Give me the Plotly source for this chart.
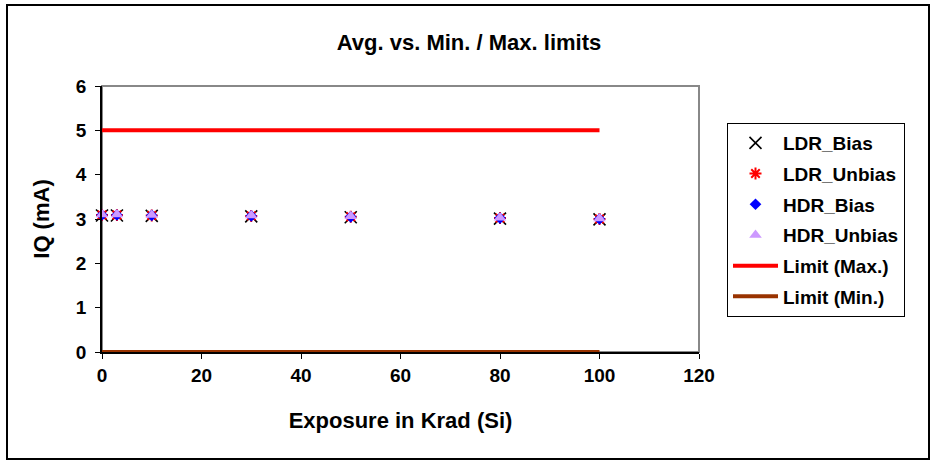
import plotly.graph_objects as go

exposure = [0, 3, 10, 30, 50, 80, 100]
ldr_bias = [3.08, 3.08, 3.07, 3.06, 3.04, 3.01, 2.99]
ldr_unbias = [3.09, 3.09, 3.08, 3.07, 3.05, 3.02, 3.00]
hdr_bias = [3.09, 3.09, 3.08, 3.07, 3.05, 3.02, 3.00]
hdr_unbias = [3.10, 3.10, 3.09, 3.08, 3.06, 3.03, 3.01]
limit_x = [0, 100]
limit_max = [5, 5]
limit_min = [0, 0]

FONT = "Liberation Sans, Arial, sans-serif"
W, H = 932, 460
PL, PR, PT, PB = 102, 699, 86, 352


def px(x):
    return (x - PL) / (PR - PL)


def py(y):
    return (PB - y) / (PB - PT)


fig = go.Figure()
fig.add_trace(go.Scatter(x=exposure, y=ldr_bias, mode="markers", name="LDR_Bias",
                         legendgroup="a", cliponaxis=False,
                         marker=dict(symbol="x-thin-open", size=12, color="black",
                                     line=dict(color="black", width=1.6))))
fig.add_trace(go.Scatter(x=exposure, y=ldr_unbias, mode="markers", name="LDR_Unbias",
                         legendgroup="b", cliponaxis=False,
                         marker=dict(symbol="asterisk-open", size=10, color="#FF0000",
                                     line=dict(color="#FF0000", width=2))))
fig.add_trace(go.Scatter(x=exposure, y=hdr_bias, mode="markers", name="HDR_Bias",
                         legendgroup="c", cliponaxis=False,
                         marker=dict(symbol="diamond", size=9, color="#0000FF")))
fig.add_trace(go.Scatter(x=exposure, y=hdr_unbias, mode="markers", name="HDR_Unbias",
                         legendgroup="d", cliponaxis=False,
                         marker=dict(symbol="triangle-up", size=11, color="#CC99FF")))
fig.add_trace(go.Scatter(x=limit_x, y=limit_max, mode="lines", name="Limit (Max.)",
                         legendgroup="e", cliponaxis=False,
                         line=dict(color="#FF0000", width=4)))
fig.add_trace(go.Scatter(x=limit_x, y=limit_min, mode="lines", name="Limit (Min.)",
                         legendgroup="f", cliponaxis=False,
                         line=dict(color="#993300", width=4)))

fig.update_layout(
    width=W, height=H,
    margin=dict(l=PL, r=W - PR, t=PT, b=H - PB),
    paper_bgcolor="white", plot_bgcolor="white",
    font=dict(family=FONT, size=19, color="black", weight="bold"),
    title=dict(text="Avg. vs. Min. / Max. limits", x=469 / W, xanchor="center",
               y=1 - 42 / H, yanchor="middle",
               font=dict(family=FONT, size=22, color="black", weight="bold")),
    xaxis=dict(range=[0, 120], dtick=20, showgrid=False, zeroline=False,
               showline=True, linecolor="black", linewidth=1.5,
               ticks="outside", ticklen=5, tickcolor="black",
               tickfont=dict(family=FONT, size=19, weight="bold"),
               title=dict(text="Exposure in Krad (Si)", standoff=28,
                          font=dict(family=FONT, size=22, weight="bold"))),
    yaxis=dict(range=[0, 6], dtick=1, showgrid=False, zeroline=False,
               showline=True, linecolor="black", linewidth=1.5,
               ticks="outside", ticklen=5, tickcolor="black", ticklabelstandoff=5,
               tickfont=dict(family=FONT, size=19, weight="bold"),
               title=dict(text="IQ (mA)", standoff=20,
                          font=dict(family=FONT, size=22, weight="bold"))),
    legend=dict(x=px(727), y=py(123), xanchor="left", yanchor="top",
                bordercolor="black", borderwidth=1, bgcolor="white",
                font=dict(family=FONT, size=19, weight="bold"),
                itemwidth=45, tracegroupgap=3, traceorder="grouped"),
    shapes=[
        dict(type="rect", xref="paper", yref="paper", x0=0, x1=1, y0=0, y1=1,
             line=dict(color="#888888", width=2), layer="below"),
        dict(type="rect", xref="paper", yref="paper",
             x0=px(7), x1=px(929), y0=py(459), y1=py(5),
             line=dict(color="black", width=2), layer="below"),
    ],
)

fig.write_html("out.html", config={"displayModeBar": False},
               post_script="document.body.style.margin='0px';")
